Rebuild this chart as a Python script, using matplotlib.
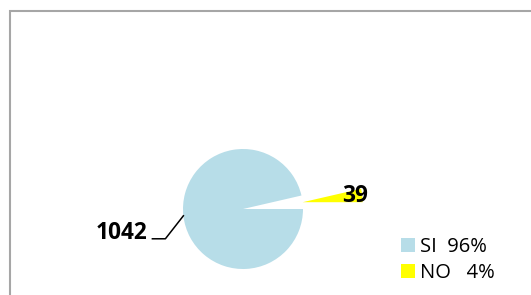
import numpy as np
import matplotlib
matplotlib.use("Agg")
import matplotlib.pyplot as plt
from matplotlib.patches import Patch

categories = ["SI", "NO"]
values = [1042, 39]
percent_labels = ["96%", "4%"]
legend_labels = ["SI  96%", "NO   4%"]
colors = ["#b7dde8", "#ffff00"]

W, H = 531, 295
fig = plt.figure(figsize=(W / 100, H / 100), dpi=100)
ax = fig.add_axes([0, 0, 1, 1])

cx, cy, R = 243, H - 209, 60
start = 360 * values[1] / sum(values)
wedges, _ = ax.pie(values, colors=colors, startangle=start, counterclock=True,
                   explode=[0, 1.0 * R], radius=R, center=(cx, cy))
ax.set_xlim(0, W)
ax.set_ylim(0, H)
ax.set_aspect("equal")
ax.axis("off")

# outer frame (partially visible)
ax.plot([9.5, 9.5, W + 5], [-5, H - 10.5, H - 10.5], color="#a6a6a6", lw=1.5,
        clip_on=False, solid_joinstyle="miter")

numfont = dict(family=["Open Sans", "DejaVu Sans"], fontweight="bold", fontsize=16.3)

# label for SI with leader line
w = wedges[0]
mid = np.deg2rad((w.theta1 + w.theta2) / 2)
ax0 = w.center[0] + R * np.cos(mid)
ay0 = w.center[1] + R * np.sin(mid)
ex, ey = ax0 - 18, ay0 - 23
hx = ex - 13
ax.plot([ax0, ex, hx], [ay0, ey, ey], color="black", lw=1.1)
ax.text(hx - 5, ey - 0.5, str(values[0]), ha="right", va="baseline", color="black", **numfont)

# label for NO
w = wedges[1]
mid = np.deg2rad((w.theta1 + w.theta2) / 2)
lx = w.center[0] + 0.88 * R * np.cos(mid)
ly = w.center[1] + 0.88 * R * np.sin(mid)
ax.text(lx, ly, str(values[1]), ha="center", va="center", color="black", **numfont)

handles = [Patch(facecolor=c, edgecolor="none") for c in colors]
leg = ax.legend(handles, legend_labels, loc="upper left",
                bbox_to_anchor=(401, H - 237), bbox_transform=ax.transData,
                frameon=False, borderpad=0, borderaxespad=0,
                handlelength=0.68, handleheight=0.72, handletextpad=0.25,
                labelspacing=0.31,
                prop=dict(family=["Open Sans", "DejaVu Sans"], size=14.5))

fig.savefig("out.png", dpi=100)
